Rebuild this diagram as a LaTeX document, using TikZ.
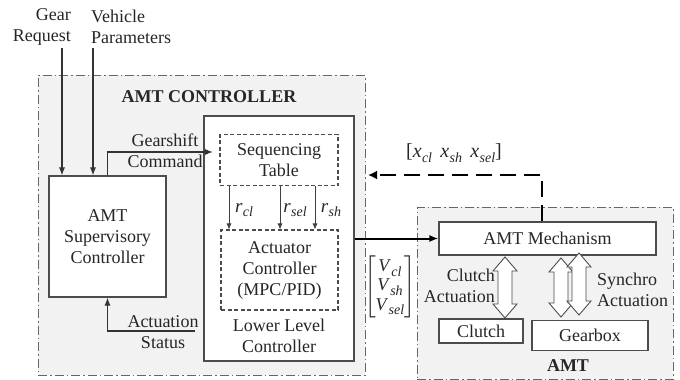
\documentclass[tikz,border=0pt]{standalone}
\usepackage{amsmath}
\usepackage{fontspec}
\setmainfont{Liberation Serif}
\usetikzlibrary{arrows.meta,calc}
\newcommand\dblarrow[3]{%
  \draw[dblstyle] (#1,#2) -- (#1+12,#2+14) -- (#1+7,#2+14) -- (#1+7,#3-14) -- (#1+12,#3-14) -- (#1,#3)
    -- (#1-12,#3-14) -- (#1-7,#3-14) -- (#1-7,#2+14) -- (#1-12,#2+14) -- cycle;}
\newcommand\subv[2]{\textit{#1}\kern0.3pt\raisebox{-0.25em}{\fontsize{14}{14}\selectfont\textit{#2}}}
\begin{document}
\begin{tikzpicture}[x=1pt,y=-1pt,
  font=\fontsize{18}{21}\selectfont,
  txt/.style={text=black!85, inner sep=0pt, align=center},
  box/.style={draw=black!70, line width=1.1pt, fill=white, align=center, inner sep=0pt, text=black!85},
  dbox/.style={box, dash pattern=on 4pt off 2.5pt},
  outer/.style={draw=black!60, line width=0.8pt, fill=black!5, dash pattern=on 9pt off 3pt on 1.5pt off 3pt, inner sep=0pt},
  arr/.style={draw=black!80, line width=1.1pt, -{Latex[length=8pt,width=6pt]}},
  thinarr/.style={draw=black!75, line width=0.8pt, -{Latex[length=6pt,width=5pt]}},
  fbarr/.style={draw=black, line width=2.4pt, dash pattern=on 16pt off 8pt, -{Latex[length=9pt,width=9pt]}},
  varr/.style={draw=black, line width=2pt, -{Latex[length=9pt,width=7pt]}},
  dblstyle/.style={draw=black!70, line width=0.9pt, fill=white},
]
\useasboundingbox (0,0) rectangle (680,380);

% outer regions
\node[outer, minimum width=327pt, minimum height=300pt] (ctrl) at (201.5,225) {};
\node[outer, minimum width=256pt, minimum height=172pt] (amt) at (545,293) {};

% titles
\node[txt, font=\fontsize{18}{21}\selectfont\bfseries] (ctrltitle) at (209,97) {AMT CONTROLLER};
\node[txt, font=\fontsize{18}{21}\selectfont\bfseries] (amttitle) at (568,366) {AMT};

% inputs
\node[txt, anchor=east, align=right] (gear) at (71,26.5) {Gear\\Request};
\node[txt, anchor=west, align=left] (veh) at (91,26.5) {Vehicle\\Parameters};

% controller blocks
\node[box, minimum width=117pt, minimum height=121pt] (sup) at (107.5,236.5) {AMT\\Supervisory\\Controller};
\node[box, minimum width=150pt, minimum height=245pt] (llc) at (279,238.5) {};
\node[txt] (llclabel) at (279,336) {Lower Level\\Controller};
\node[dbox, minimum width=118pt, minimum height=51pt] (seq) at (279,160) {Sequencing\\Table};
\node[dbox, minimum width=117pt, minimum height=80pt] (act) at (279.5,270) {Actuator\\Controller\\(MPC/PID)};

% AMT blocks
\node[box, minimum width=217pt, minimum height=33pt] (mech) at (547.5,238.5) {AMT Mechanism};
\node[box, minimum width=84pt, minimum height=24pt] (clutch) at (481,331) {Clutch};
\node[box, minimum width=116pt, minimum height=30pt] (gearbox) at (590,335.5) {Gearbox};

% coordinates
\coordinate (g0) at (62,48);
\coordinate (v0) at (93,48);
\coordinate (gsend) at (213,152);
\coordinate (asend) at (195,331);
\coordinate (fbend) at (368,175);

% input arrows
\draw[arr] (g0) -- (g0 |- sup.north);
\draw[arr] (v0) -- (v0 |- sup.north);

% gearshift command
\draw[arr] (sup.north) |- (gsend);
\node[txt] (gslabel) at (165,151) {Gearshift\\Command};

% actuation status
\draw[arr] (asend) -| (sup.south);
\node[txt] (aslabel) at (163,332) {Actuation\\Status};

% references
\draw[thinarr] ([xshift=-50pt]seq.south) -- ([xshift=-50.5pt]act.north);
\draw[thinarr] ([xshift=1pt]seq.south) -- ([xshift=0.5pt]act.north);
\draw[thinarr] ([xshift=36pt]seq.south) -- ([xshift=35.5pt]act.north);
\node[txt, font=\fontsize{19}{21}\selectfont] (rcl) at (244,210) {\subv{r}{cl}};
\node[txt, font=\fontsize{19}{21}\selectfont] (rsel) at (295,210) {\subv{r}{sel}};
\node[txt, font=\fontsize{19}{21}\selectfont] (rsh) at (331,210) {\subv{r}{sh}};

% voltage
\draw[varr] (llc.east) -- (mech.west);
\node[txt] (vlab) at (390,287)
  {\renewcommand\arraystretch{0.92}$\begin{bmatrix}\mbox{\subv{V}{cl}}\\ \mbox{\subv{V}{sh}}\\ \mbox{\subv{V}{sel}}\end{bmatrix}$};

% feedback
\draw[fbarr] ([xshift=-5.5pt]mech.north) |- (fbend);
\node[txt, font=\fontsize{20}{22}\selectfont] (fblab) at (454,153) {[\subv{x}{cl}\, \subv{x}{sh}\, \subv{x}{sel}]};

% actuation labels
\node[txt, anchor=east, align=right] (clab) at (495,286) {Clutch\\Actuation};
\node[txt, anchor=west, align=left] (slab) at (597,290) {Synchro\\Actuation};

% double arrows
\dblarrow{505}{257}{318}
\dblarrow{561}{258}{317}
\dblarrow{579}{253}{315}
\end{tikzpicture}
\end{document}
